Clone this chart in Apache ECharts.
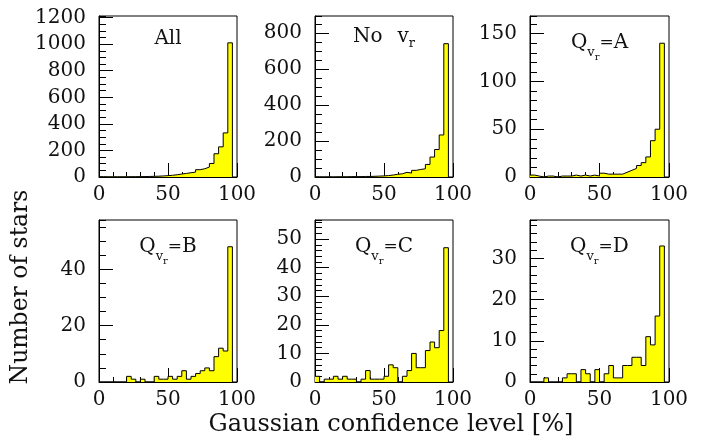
<!DOCTYPE html>
<html><head><meta charset="utf-8">
<script src="https://cdn.jsdelivr.net/npm/echarts@6/dist/echarts.min.js"></script>
<style>html,body{margin:0;padding:0;background:#fff}#c{width:705px;height:441px}</style>
</head><body><div id="c"></div>
<script>
// ---- data ----
const binCount = 30;               // histogram bins across 0–100 %
const xTickLabels = [0, 50, 100];
const countsAll = [2,1,1,1,1,1,2,2,3,3,4,5,6,8,10,13,17,22,27,32,37,55,62,75,102,175,227,332,1010];
const countsNoVr = [1,0,1,0,1,1,1,2,2,2,3,3,4,5,6,8,11,15,18,26,22,37,42,46,70,111,153,234,742];
const countsA = [2,1,0,1,1,0,1,1,1,2,1,2,1,2,1,4,3,3,3,3,5,7,9,12,15,21,38,50,140];
const countsB = [0,0,0,0,0,0,2,1,0,1,0,0,2,1,1,2,1,2,4,1,2,3,4,5,4,9,12,11,48];
const countsC = [2,0,1,1,2,1,2,1,1,0,1,4,1,1,1,2,6,5,0,2,4,10,5,5,11,14,12,18,47];
const countsD = [0,0,0,1,0,0,0,1,2,2,0,3,2,0,3,0,2,4,1,1,4,4,6,6,4,11,9,16,33];
const panelLetters = ['All', 'No', 'A', 'B', 'C', 'D'];
const yMax = [1212, 896, 168.5, 57.5, 56.7, 39.3];
const yMajorStep = [200, 200, 50, 20, 10, 10];
const yMinorStep = [50, 50, 10, 5, 2, 2];
const xTitle = 'Gaussian confidence level [%]';
const yTitle = 'Number of stars';

// ---- layout ----
const FONT = 'DejaVu Serif';
const INK = '#111';
const panels = [
  {left: 99, top: 16, width: 138, height: 161},
  {left: 315, top: 16, width: 138, height: 161},
  {left: 530, top: 16, width: 139, height: 161},
  {left: 99, top: 220, width: 138, height: 162},
  {left: 315, top: 220, width: 138, height: 162},
  {left: 530, top: 220, width: 139, height: 162}
];
const seriesData = [countsAll, countsNoVr, countsA, countsB, countsC, countsD];

// rich-text styles for the panel labels
const base = {fontFamily: FONT, color: INK, fontWeight: 'normal'};
const rich = {
  big: Object.assign({fontSize: 20, lineHeight: 20, verticalAlign: 'top'}, base),
  sub: Object.assign({fontSize: 13, lineHeight: 13, verticalAlign: 'top', padding: [14, 0, 0, 0]}, base),
  sub2: Object.assign({fontSize: 10, lineHeight: 10, verticalAlign: 'top', padding: [20, 0, 0, 0]}, base),
  eq: Object.assign({fontSize: 17, lineHeight: 17, verticalAlign: 'top', padding: [2, 0, 0, 0]}, base),
  vr: Object.assign({fontSize: 20, lineHeight: 20, verticalAlign: 'top', padding: [0, 0, 0, 15]}, base),
  rsub: Object.assign({fontSize: 13, lineHeight: 13, verticalAlign: 'top', padding: [11, 0, 0, 0]}, base)
};
function panelLabel(i) {
  if (i === 0) return {text: '{big|' + panelLetters[0] + '}', gap: -33};
  if (i === 1) return {text: '{big|' + panelLetters[1] + '}{vr|v}{rsub|r}', gap: -30.5};
  return {text: '{big|Q}{sub|v}{sub2|r}{eq|=}{big|' + panelLetters[i] + '}', gap: -36.5};
}

function stepPoints(vals) {
  const w = 100 / binCount;
  const pts = vals.map((v, k) => [k * w, v]);
  pts.push([vals.length * w, vals[vals.length - 1]]);
  pts.push([vals.length * w, 0]);
  return pts;
}

const grid = [], xAxis = [], yAxis = [], series = [];
panels.forEach((p, i) => {
  grid.push({left: p.left, top: p.top, width: p.width, height: p.height,
    show: true, borderColor: '#000', borderWidth: 1});
  xAxis.push({gridIndex: i, type: 'value', min: xTickLabels[0], max: xTickLabels[2], interval: 50,
    axisLine: {show: true, lineStyle: {color: '#000', width: 1}},
    axisTick: {show: true, inside: true, length: 14, lineStyle: {color: '#000', width: 1}},
    minorTick: {show: true, splitNumber: 5, length: 5, lineStyle: {color: '#000', width: 1}},
    splitLine: {show: false},
    axisLabel: {margin: 8, fontFamily: FONT, fontSize: 20, color: INK, formatter: v => String(v)}});
  const lab = panelLabel(i);
  xAxis.push({gridIndex: i, type: 'value', position: 'top', min: 0, max: 100,
    axisLine: {show: false}, axisTick: {show: false}, axisLabel: {show: false}, splitLine: {show: false},
    name: lab.text, nameLocation: 'middle', nameGap: lab.gap, nameTextStyle: {rich: rich}});
  yAxis.push({gridIndex: i, type: 'value', position: 'left', min: 0, max: yMax[i], interval: yMajorStep[i],
    axisLine: {show: true, lineStyle: {color: '#000', width: 1}},
    axisTick: {show: true, inside: true, length: 14, lineStyle: {color: '#000', width: 1}},
    splitLine: {show: false},
    axisLabel: {margin: 13, showMaxLabel: false, fontFamily: FONT, fontSize: 20, color: INK, formatter: v => String(v)}});
  yAxis.push({gridIndex: i, type: 'value', position: 'left', min: 0, max: yMax[i], interval: yMinorStep[i],
    axisLine: {show: false},
    axisTick: {show: true, inside: true, length: 7, lineStyle: {color: '#000', width: 1}},
    splitLine: {show: false}, axisLabel: {show: false}});
  series.push({type: 'line', xAxisIndex: 2 * i, yAxisIndex: 2 * i, data: stepPoints(seriesData[i]),
    step: 'end', symbol: 'none', showSymbol: false,
    lineStyle: {color: '#000', width: 1}, itemStyle: {color: '#000'},
    areaStyle: {color: '#ffff00', opacity: 1}});
});

// invisible helper grid carrying the shared axis titles
grid.push({left: 205, top: 192, width: 372, height: 190, show: false});
xAxis.push({gridIndex: 6, type: 'value', position: 'bottom', min: 0, max: 1,
  axisLine: {show: false}, axisTick: {show: false}, axisLabel: {show: false}, splitLine: {show: false},
  name: xTitle, nameLocation: 'middle', nameGap: 31,
  nameTextStyle: {fontFamily: FONT, fontSize: 24, lineHeight: 24, color: INK}});
yAxis.push({gridIndex: 6, type: 'value', position: 'left', min: 0, max: 1,
  axisLine: {show: false}, axisTick: {show: false}, axisLabel: {show: false}, splitLine: {show: false},
  name: yTitle, nameLocation: 'middle', nameRotate: 90, nameGap: 172,
  nameTextStyle: {fontFamily: FONT, fontSize: 23.5, color: INK}});

const chart = echarts.init(document.getElementById('c'));
chart.setOption({animation: false, grid, xAxis, yAxis, series});
</script></body></html>
